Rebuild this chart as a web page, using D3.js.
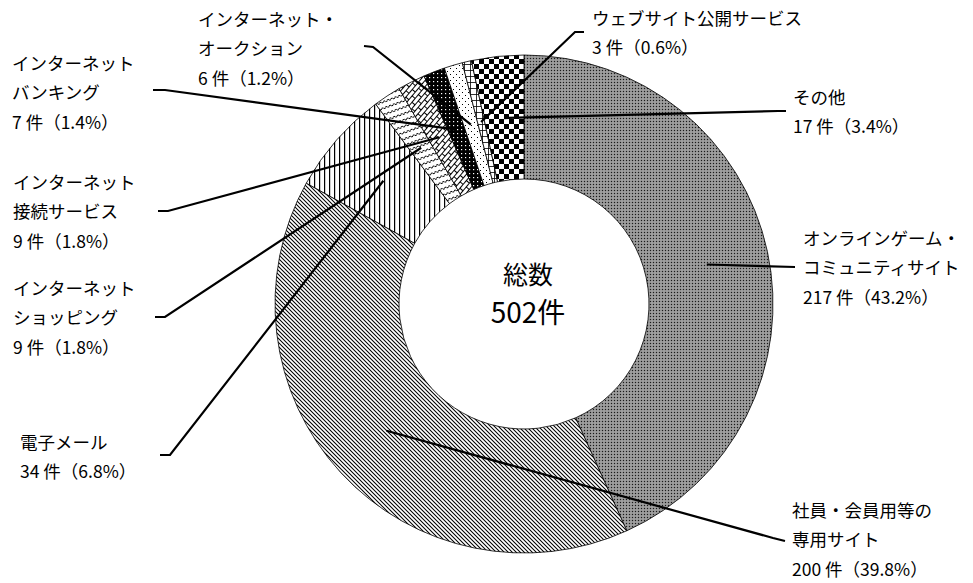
<!DOCTYPE html>
<html><head><meta charset="utf-8">
<script src="https://cdn.jsdelivr.net/npm/d3@7"></script>
<style>html,body{margin:0;padding:0;background:#fff;}svg{display:block;}</style>
</head><body>
<svg id="chart" width="973" height="583"></svg>
<script>
const categories = ["オンラインゲーム・コミュニティサイト","社員・会員用等の専用サイト","電子メール","インターネットショッピング","インターネット接続サービス","インターネットバンキング","インターネット・オークション","ウェブサイト公開サービス","その他"];
const counts = [217, 200, 34, 9, 9, 7, 6, 3, 17];
const percents = ["43.2", "39.8", "6.8", "1.8", "1.8", "1.4", "1.2", "0.6", "3.4"];
const labelLines = [
  ["オンラインゲーム・","コミュニティサイト"],
  ["社員・会員用等の","専用サイト"],
  ["電子メール"],
  ["インターネット","ショッピング"],
  ["インターネット","接続サービス"],
  ["インターネット","バンキング"],
  ["インターネット・","オークション"],
  ["ウェブサイト公開サービス"],
  ["その他"]
];
const totalLabel = ["総数", "502件"];

// layout (positions only)
const cx = 524, cy = 304, R = 249, r = 125;
const labelPos = [
  {x:803, y:238, path:[[795,267]]},
  {x:792, y:510, path:[[773,538],[785,541]]},
  {x:20,  y:442, path:[[170,455],[160,455]]},
  {x:13,  y:288, path:[[165,317],[155,317]]},
  {x:13,  y:182, path:[[168,211],[158,211]]},
  {x:12,  y:63,  path:[[165,90],[153,90]]},
  {x:198, y:19,  path:[[373,47],[364,46]]},
  {x:592, y:18,  path:[[575,32],[584,32]]},
  {x:793, y:97,  path:[[778,111],[786,111]]}
];
const LH = 29.5;
const FONT = "'Noto Sans CJK JP','Noto Sans',sans-serif";

const svg = d3.select("#chart");
const defs = svg.append("defs");

function pat(id, w, h, draw, transform) {
  const p = defs.append("pattern").attr("id", id).attr("patternUnits", "userSpaceOnUse")
    .attr("width", w).attr("height", h);
  if (transform) p.attr("patternTransform", transform);
  draw(p);
}
// 0 game: gray dotted texture
pat("p0", 3, 3, p => {
  p.append("rect").attr("width",3).attr("height",3).attr("fill","#8e8e8e");
  p.append("rect").attr("width",1).attr("height",1).attr("fill","#1a1a1a");
  p.append("rect").attr("x",1.5).attr("y",1.5).attr("width",1).attr("height",1).attr("fill","#d0d0d0");
});
// 1 diagonal "\" lines
pat("p1", 4, 4, p => {
  p.append("rect").attr("width",4).attr("height",4).attr("fill","#fff");
  p.append("path").attr("d","M-1,-1L5,5M-1,3L1,5M3,-1L5,1").attr("stroke","#000").attr("stroke-width",1.05);
});
// 2 vertical lines
pat("p2", 5, 5, p => {
  p.append("rect").attr("width",5).attr("height",5).attr("fill","#fff");
  p.append("rect").attr("x",0).attr("width",1.2).attr("height",5).attr("fill","#000");
});
// 3 waves
pat("p3", 8, 6, p => {
  p.append("rect").attr("width",8).attr("height",6).attr("fill","#fff");
  p.append("path").attr("d","M0,3L2,1L4,3L6,1L8,3").attr("fill","none").attr("stroke","#000").attr("stroke-width",1);
}, "rotate(-20)");
// 4 bricks
pat("p4", 10, 8, p => {
  p.append("rect").attr("width",10).attr("height",8).attr("fill","#fff");
  p.append("path").attr("d","M0,0.5H10M0,4.5H10M2.5,0V4.5M7.5,4.5V8").attr("fill","none").attr("stroke","#000").attr("stroke-width",1);
}, "rotate(-50)");
// 5 black with white dots
pat("p5", 4, 4, p => {
  p.append("rect").attr("width",4).attr("height",4).attr("fill","#000");
  p.append("rect").attr("x",1).attr("y",1).attr("width",1.2).attr("height",1.2).attr("fill","#fff");
});
// 6 white with sparse dots
pat("p6", 6, 6, p => {
  p.append("rect").attr("width",6).attr("height",6).attr("fill","#fff");
  p.append("rect").attr("x",1).attr("y",1).attr("width",1).attr("height",1).attr("fill","#000");
  p.append("rect").attr("x",4).attr("y",4).attr("width",1).attr("height",1).attr("fill","#000");
});
// 7 small grid
pat("p7", 6, 6, p => {
  p.append("rect").attr("width",6).attr("height",6).attr("fill","#fff");
  p.append("path").attr("d","M0,0.5H6M0.5,0V6").attr("stroke","#000").attr("stroke-width",0.8);
});
// 8 checkerboard
pat("p8", 10, 10, p => {
  p.append("rect").attr("width",10).attr("height",10).attr("fill","#fff");
  p.append("rect").attr("width",5).attr("height",5).attr("fill","#000");
  p.append("rect").attr("x",5).attr("y",5).attr("width",5).attr("height",5).attr("fill","#000");
});

const data = categories.map((c, i) => ({cat: c, count: counts[i], pct: percents[i], lines: labelLines[i], idx: i}));

const pie = d3.pie().sort(null).value(d => d.count).startAngle(0).endAngle(2 * Math.PI);
const arc = d3.arc().innerRadius(r).outerRadius(R);
const arcs = pie(data);

const g = svg.append("g").attr("transform", `translate(${cx},${cy})`);
g.selectAll("path.slice").data(arcs).join("path")
  .attr("class", "slice")
  .attr("d", arc)
  .attr("fill", d => `url(#p${d.data.idx})`)
  .attr("stroke", "#000")
  .attr("stroke-width", 0.8);

// leader lines
const line = d3.line();
arcs.forEach((a, i) => {
  const c = arc.centroid(a);
  const pts = [[cx + c[0], cy + c[1]], ...labelPos[i].path];
  svg.append("path").attr("d", line(pts)).attr("fill", "none")
    .attr("stroke", "#000").attr("stroke-width", 2.2);
});

// labels
data.forEach((d, i) => {
  const lp = labelPos[i];
  const all = [...d.lines, `${d.count} 件（${d.pct}%）`];
  const t = svg.append("text").attr("font-family", FONT).attr("font-size", 17.5).attr("fill", "#000");
  all.forEach((s, k) => {
    t.append("tspan").attr("x", lp.x).attr("y", lp.y + k * LH + 6.5).text(s);
  });
});

// center total
svg.append("text").attr("x", 528).attr("y", 284).attr("text-anchor", "middle")
  .attr("font-family", FONT).attr("font-size", 25).text(totalLabel[0]);
svg.append("text").attr("x", 528).attr("y", 323).attr("text-anchor", "middle")
  .attr("font-family", "'Liberation Sans Narrow','Noto Sans CJK JP',sans-serif").attr("font-size", 28).text(totalLabel[1]);
</script>
</body></html>
